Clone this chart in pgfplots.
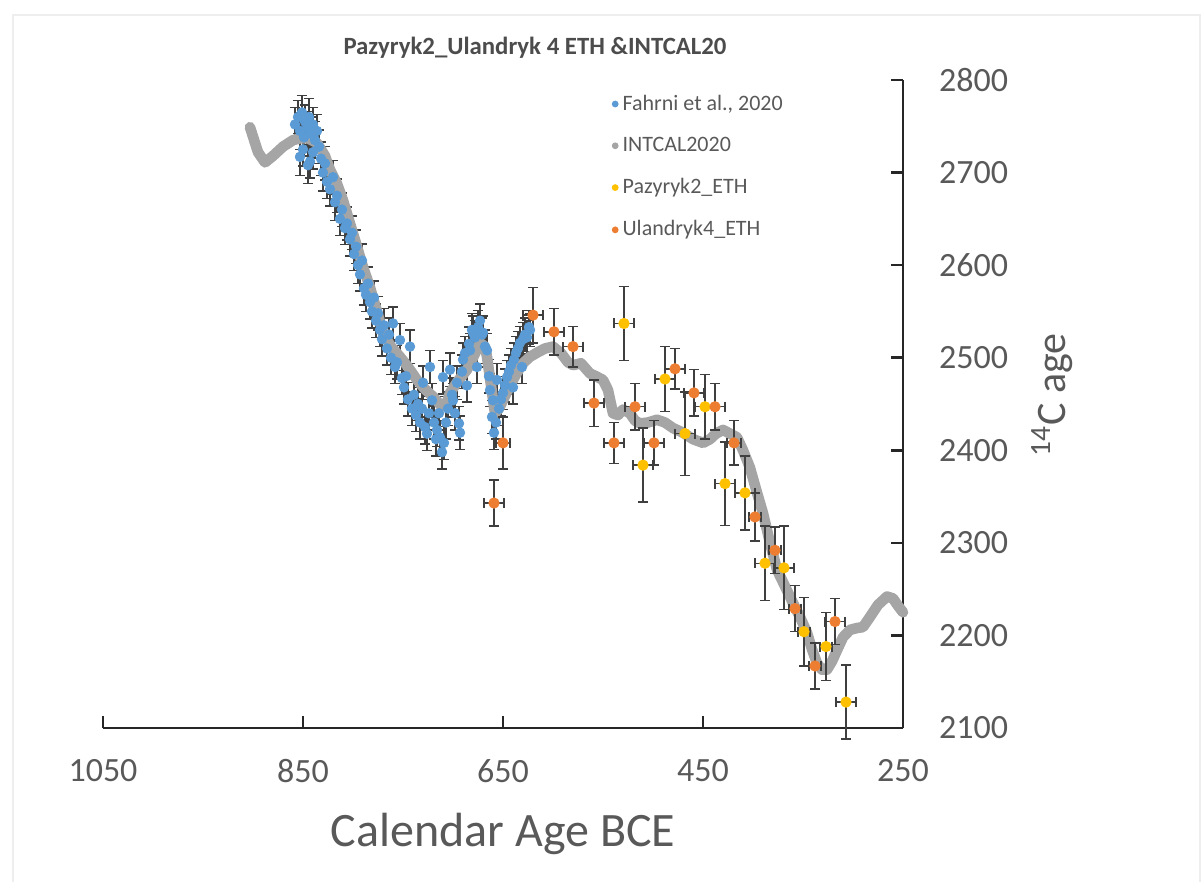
\documentclass[border=0pt]{standalone}
\usepackage{fontspec}
\setmainfont{Carlito}
\usepackage{pgfplots}
\usepackage{pgfplotstable}
\pgfplotsset{compat=1.18}
\definecolor{cblue}{HTML}{5B9BD5}
\definecolor{cgray}{HTML}{A5A5A5}
\definecolor{cyellow}{HTML}{FFC000}
\definecolor{corange}{HTML}{ED7D31}
\definecolor{ctext}{HTML}{595959}
\definecolor{cerr}{HTML}{3F3F3F}
\definecolor{cframe}{HTML}{EEEEEE}

\pgfplotstableread{
x y
903 2749
895 2722
888 2711
880 2718
870 2728
860 2735
853 2737
845 2737
836 2732
828 2718
823 2703
816 2688
810 2670
803 2645
796 2620
790 2598
783 2576
776 2550
770 2527
762 2512
753 2501
745 2490
736 2476
728 2466
720 2458
711 2447
706 2452
703 2462
695 2475
686 2487
680 2500
673 2516
668 2512
666 2501
662 2470
658 2440
654 2445
650 2454
643 2470
636 2484
630 2494
623 2501
615 2506
608 2510
600 2512
592 2505
585 2495
580 2492
572 2494
563 2483
557 2480
550 2476
545 2465
540 2440
535 2438
530 2444
523 2440
518 2432
513 2429
505 2430
496 2433
488 2430
480 2424
470 2419
460 2412
450 2408
443 2412
437 2418
430 2422
423 2418
416 2414
410 2400
403 2381
397 2358
390 2332
383 2300
376 2271
368 2253
360 2235
353 2220
346 2203
341 2185
336 2170
331 2163
326 2163
321 2172
316 2184
310 2198
303 2206
296 2208
290 2209
283 2220
275 2233
266 2242
260 2240
255 2232
250 2225
}\intcal

\pgfplotstableread{
x y ey
858 2752 18
855 2760 18
853 2745 20
851 2765 18
849 2738 20
848 2755 18
846 2748 18
844 2760 20
842 2742 18
840 2752 18
838 2735 20
836 2745 18
853 2717 20
850 2725 18
845 2708 20
843 2712 18
840 2722 18
834 2728 18
832 2715 18
830 2700 20
828 2710 18
826 2690 18
823 2682 18
820 2695 18
818 2668 20
816 2675 18
813 2650 18
811 2660 18
808 2640 18
806 2645 18
803 2628 18
801 2635 18
799 2612 18
797 2620 18
795 2600 20
793 2590 18
791 2605 18
789 2575 18
787 2568 18
785 2580 18
783 2560 18
781 2550 18
779 2565 18
777 2540 18
775 2548 18
773 2530 18
771 2520 18
769 2535 18
766 2510 18
764 2525 18
762 2500 18
760 2537 18
758 2490 18
756 2495 18
753 2519 18
751 2478 18
749 2468 18
747 2480 18
745 2455 18
743 2512 18
741 2445 18
739 2460 18
737 2438 18
735 2450 18
733 2430 18
731 2445 18
730 2473 18
728 2425 18
726 2418 18
724 2440 18
723 2490 18
721 2454 18
719 2430 18
717 2412 18
716 2422 18
714 2440 18
713 2414 18
711 2398 18
710 2479 18
709 2408 18
707 2430 18
705 2445 18
703 2487 18
701 2460 18
700 2454 18
698 2440 18
696 2473 18
694 2429 18
693 2419 18
691 2485 18
690 2498 18
688 2505 18
686 2470 18
684 2515 18
683 2508 18
681 2530 18
680 2527 18
678 2522 18
676 2490 18
675 2533 18
673 2540 18
671 2525 18
670 2527 18
668 2512 18
666 2508 18
664 2480 18
663 2465 18
661 2436 18
660 2454 18
659 2419 18
657 2430 18
656 2476 18
654 2445 18
652 2455 18
650 2462 18
648 2470 18
646 2479 18
644 2485 18
642 2492 18
640 2468 18
639 2498 18
637 2505 18
635 2510 18
633 2516 18
631 2490 18
630 2520 18
628 2525 18
626 2522 18
624 2533 18
623 2530 18
}\fahrni

\pgfplotstableread{
x y ex ey
529 2537 10 40
510 2384 10 40
488 2477 10 35
468 2418 10 45
448 2447 10 35
428 2364 10 45
408 2354 10 40
388 2278 10 40
369 2273 10 45
349 2204 6 37
327 2188 6 37
307 2128 10 40
}\pazyryk

\pgfplotstableread{
x y ex ey
620 2546 10 30
599 2528 10 25
580 2512 10 22
659 2343 10 25
650 2408 7 28
559 2451 10 25
539 2408 10 22
518 2447 10 25
499 2408 10 24
478 2488 10 22
459 2462 10 25
438 2447 10 25
419 2408 7 24
398 2328 6 26
378 2292 6 25
358 2229 6 25
338 2167 6 25
318 2215 10 25
}\ulandryk

\begin{document}
\begin{tikzpicture}
\path[use as bounding box] (-51.5pt,-77pt) rectangle (550pt,364pt);
\draw[cframe, line width=1.2pt] (-45pt,-80pt) -- (-45pt,356.5pt) -- (548.5pt,356.5pt) -- (548.5pt,-80pt);
\begin{axis}[
  at={(0pt,0pt)}, anchor=south west,
  scale only axis, width=400pt, height=324pt,
  x dir=reverse,
  xmin=250, xmax=1050, ymin=2100, ymax=2800,
  xtick={250,450,650,850,1050},
  ytick={2100,2200,2300,2400,2500,2600,2700,2800},
  axis x line*=bottom, axis y line*=right,
  axis line style={black!85, line width=1.3pt},
  tick align=inside, major tick length=6pt,
  tick style={black!85, line width=1.3pt},
  /pgf/number format/1000 sep={},
  /pgf/number format/assume math mode=true,
  ticklabel style={font=\fontsize{17}{17}\selectfont, text=ctext},
  xticklabel style={yshift=-12pt},
  yticklabel style={xshift=14.5pt},
  xlabel={Calendar Age BCE},
  xlabel style={font=\fontsize{24}{24}\selectfont, text=ctext, at={(axis description cs:0.5,-0.164)}, anchor=center},
  ylabel={\textsuperscript{14}C age},
  ylabel style={font=\fontsize{21}{21}\selectfont, text=ctext, at={(axis description cs:1.186,0.514)}, anchor=center, rotate=0},
  title={Pazyryk2\_Ulandryk 4 ETH \&INTCAL20},
  title style={font=\bfseries\fontsize{12.4}{12.4}\selectfont, text=ctext!85!black, at={(axis description cs:0.54,1.031)}, anchor=center},
  legend style={draw=none, fill=none, at={(axis description cs:0.628,0.99)}, anchor=north west,
    font=\fontsize{11}{11}\selectfont, text=ctext, row sep=8pt},
  legend cell align=left,
  clip=false,
]
\addplot[only marks, mark=*, mark size=2.4pt, color=cblue, mark options={draw=cblue, fill=cblue},
  legend image code/.code={\fill[cblue, draw=none] (0cm,0cm) circle (1.7pt);},
  error bars/.cd, y dir=both, y explicit,
  error bar style={cerr, line width=0.7pt},
  error mark options={cerr, rotate=90, line width=0.7pt, mark size=2.5pt},
  ] table[x=x, y=y, y error=ey] {\fahrni};
\addlegendentry{Fahrni et al., 2020}
\addplot[no marks, color=cgray, line width=5.3pt, line join=round, line cap=round,
  legend image code/.code={\fill[cgray, draw=none] (0cm,0cm) circle (1.7pt);}] table[x=x, y=y] {\intcal};
\addlegendentry{INTCAL2020}
\addplot[only marks, mark=*, mark size=2.6pt, color=cyellow, mark options={draw=cyellow, fill=cyellow},
  legend image code/.code={\fill[cyellow, draw=none] (0cm,0cm) circle (1.7pt);},
  error bars/.cd, x dir=both, x explicit, y dir=both, y explicit,
  error bar style={cerr, line width=0.7pt},
  error mark options={cerr, rotate=90, line width=0.7pt, mark size=2.5pt},
  ] table[x=x, y=y, x error=ex, y error=ey] {\pazyryk};
\addlegendentry{Pazyryk2\_ETH}
\addplot[only marks, mark=*, mark size=2.6pt, color=corange, mark options={draw=corange, fill=corange},
  legend image code/.code={\fill[corange, draw=none] (0cm,0cm) circle (1.7pt);},
  error bars/.cd, x dir=both, x explicit, y dir=both, y explicit,
  error bar style={cerr, line width=0.7pt},
  error mark options={cerr, rotate=90, line width=0.7pt, mark size=2.5pt},
  ] table[x=x, y=y, x error=ex, y error=ey] {\ulandryk};
\addlegendentry{Ulandryk4\_ETH}
\end{axis}
\end{tikzpicture}
\end{document}
